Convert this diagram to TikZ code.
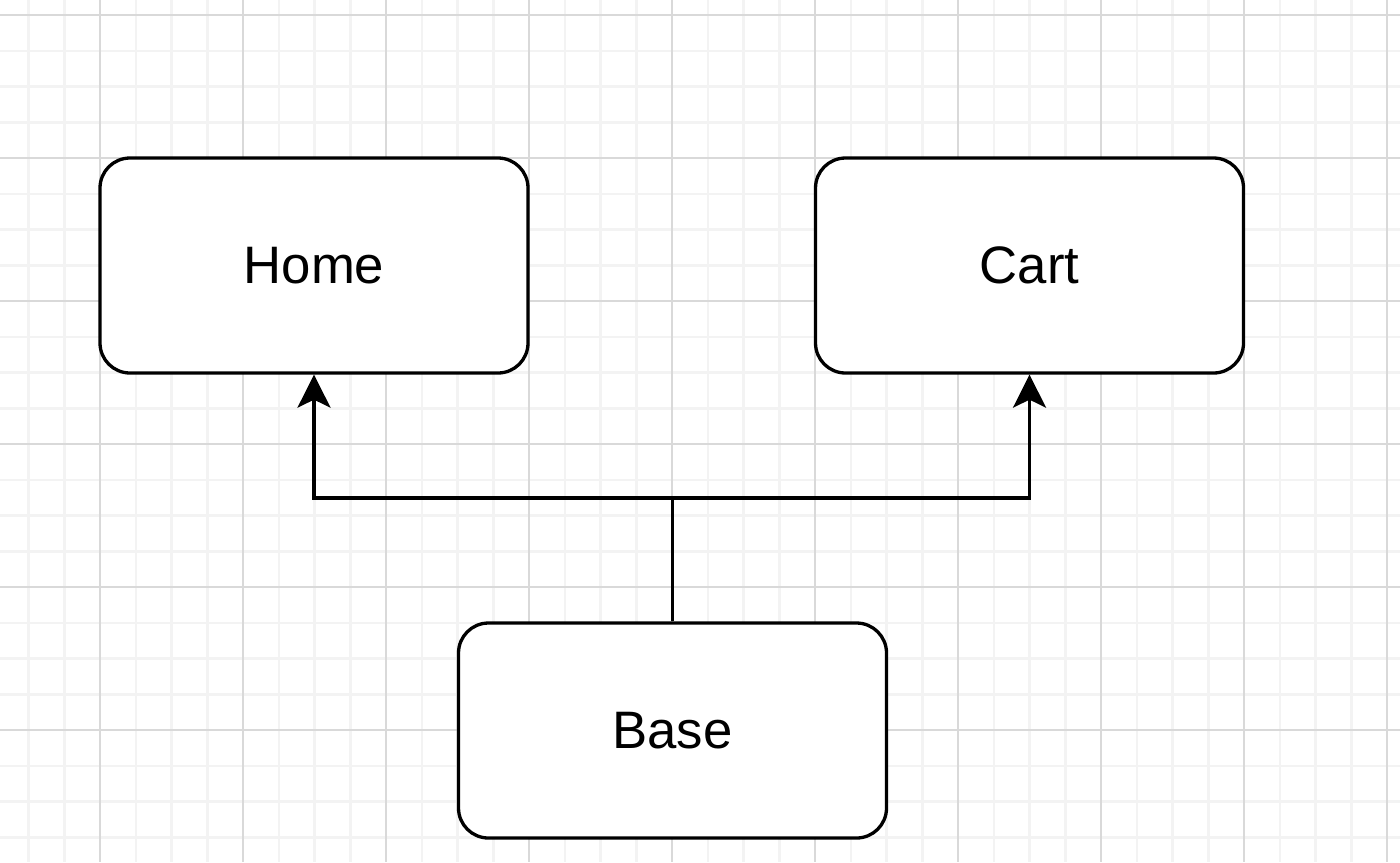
\documentclass[tikz,border=0pt]{standalone}
\usepackage{fontspec}
\setmainfont{Liberation Sans}
\usepackage{xcolor}
\definecolor{minorline}{HTML}{F3F3F3}
\definecolor{majorline}{HTML}{D9D9D9}
\usetikzlibrary{arrows.meta}
\tikzset{
    font={\fontsize{15pt}{19}\selectfont},
    page/.style={draw, fill=white, line width=0.33mm, rounded corners=3mm,
        minimum width=42.8mm, minimum height=21.5mm, inner sep=0pt},
    link/.style={line width=0.33mm},
    linkarrow/.style={link, -{Stealth[length=3.3mm,width=3.3mm,inset=0.8mm]}},
    }

\begin{document}
\begin{tikzpicture}
    [x=0.1mm, y=-0.1mm]
    \useasboundingbox (0,0) rectangle (1400,862);
    \fill[white] (0,0) rectangle (1400,862);
    % grid
    \begin{scope}
        \clip (0,0) rectangle (1400,862);
        \foreach \i in {0,...,38}
            \draw[minorline, line width=0.25mm] ({28.5+\i*35.75},0) -- ++(0,862);
        \foreach \i in {0,...,23}
            \draw[minorline, line width=0.25mm] (0,{15+\i*35.75}) -- ++(1400,0);
        \foreach \i in {0,...,9}
            \draw[majorline, line width=0.2mm] ({100+\i*143},0) -- ++(0,862);
        \foreach \i in {0,...,5}
            \draw[majorline, line width=0.2mm] (0,{15+\i*143}) -- ++(1400,0);
    \end{scope}
    % pages
    \node[page] (home) at (314,265.5) {Home};
    \node[page] (cart) at (1029.5,265.5) {Cart};
    \node[page] (base) at (672.5,730.5) {Base};
    % links
    \coordinate (split) at (672.5,498);
    \draw[link] (base.north) -- (split);
    \draw[linkarrow] (split) -| (home.south);
    \draw[linkarrow] (split) -| (cart.south);
\end{tikzpicture}
\end{document}
